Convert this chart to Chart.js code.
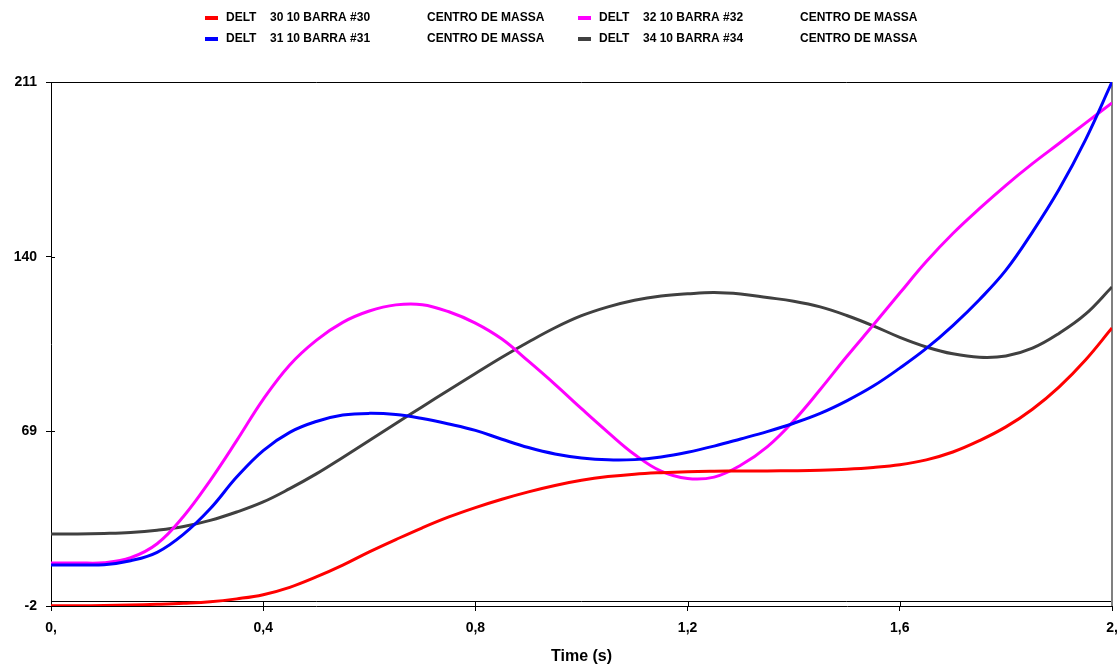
<!DOCTYPE html>
<html>
<head>
<meta charset="utf-8">
<script src="https://cdn.jsdelivr.net/npm/chart.js@4.4.0/dist/chart.umd.min.js"></script>
<style>
  html, body { margin: 0; padding: 0; background: #fff; }
  #chart { display: block; }
</style>
</head>
<body>
<canvas id="chart" width="1120" height="666"></canvas>
<script>
// tempo (s)
const times = [0, 0.05, 0.1, 0.15, 0.2, 0.25, 0.3, 0.35, 0.4, 0.45, 0.5, 0.55, 0.6, 0.65, 0.7, 0.75, 0.8, 0.85, 0.9, 0.95,
               1, 1.05, 1.1, 1.15, 1.2, 1.25, 1.3, 1.35, 1.4, 1.45, 1.5, 1.55, 1.6, 1.65, 1.7, 1.75, 1.8, 1.85, 1.9, 1.95, 2];

// angulos DELT de cada barra
const delt30 = [-1.9, -1.9, -1.8, -1.6, -1.3, -0.9, -0.3, 0.9, 2.6, 5.6, 9.8, 14.6, 20, 25, 29.8, 34.2, 38, 41.4, 44.4, 47,
                49.1, 50.6, 51.6, 52.2, 52.6, 52.8, 52.9, 52.9, 53, 53.2, 53.6, 54.3, 55.4, 57.4, 60.6, 65.2, 70.8, 78, 87, 98, 111];
const delt31 = [14.7, 14.7, 14.8, 16.4, 19.8, 27.2, 37.5, 50.4, 61.2, 68.6, 73, 75.6, 76.3, 75.8, 74.2, 72, 69.4, 65.8, 62.4, 59.8,
                58.2, 57.4, 57.5, 58.6, 60.5, 63, 65.9, 68.9, 72.3, 76.3, 81.4, 87.4, 94.7, 102.7, 112, 122.5, 134.5, 150, 167.3, 187.5, 211];
const delt32 = [15.5, 15.5, 15.6, 17.6, 23.3, 34.5, 49, 65.2, 82, 96, 106, 113.3, 117.9, 120.4, 120.5, 117.6, 113, 106.5, 97.5, 88.1,
                78.2, 68.6, 59.6, 52.8, 49.8, 50.4, 55.2, 62.7, 73.3, 86, 99.4, 112.2, 125.2, 138, 149.4, 159.5, 169, 177.8, 186, 194.3, 202.5];
const delt34 = [27.3, 27.3, 27.5, 27.9, 28.8, 30.3, 32.8, 36.2, 40.3, 45.7, 51.7, 58.4, 65.3, 72.2, 79, 85.8, 92.5, 99.1, 105.3, 111.1,
                116, 119.6, 122.3, 124, 124.9, 125.4, 124.8, 123.4, 121.9, 119.6, 116.1, 111.9, 107.2, 103.3, 100.5, 99.1, 99.6, 102.8, 108.8, 116.6, 127.7];

const busNames = ['30 10 BARRA #30', '31 10 BARRA #31', '32 10 BARRA #32', '34 10 BARRA #34'];
const seriesColors = ['#ff0000', '#0000ff', '#ff00ff', '#404040'];

const xTickValues = [0, 0.4, 0.8, 1.2, 1.6, 2];
const xTickLabels = ['0,', '0,4', '0,8', '1,2', '1,6', '2,'];
const yTickValues = [-2, 69, 140, 211];

const FONT = "Arial, 'Liberation Sans', sans-serif";

function toPoints(values) {
    return values.map((v, i) => ({ x: times[i], y: v }));
}

const allSeries = [delt30, delt31, delt32, delt34];

// moldura: borda superior, borda direita, linha do zero, tracinhos internos
const framePlugin = {
    id: 'frame',
    beforeDatasetsDraw(chart) {
        const { ctx, chartArea: a, scales } = chart;
        ctx.save();
        ctx.lineWidth = 1;
        ctx.strokeStyle = '#000';
        const y0 = Math.round(scales.y.getPixelForValue(0)) + 0.5;
        ctx.beginPath();
        ctx.moveTo(a.left, y0);
        ctx.lineTo(a.right, y0);
        ctx.moveTo(a.left, a.top + 0.5);
        ctx.lineTo(a.right, a.top + 0.5);
        // tracinhos para dentro do grafico
        yTickValues.forEach(v => {
            const py = Math.round(scales.y.getPixelForValue(v)) + 0.5;
            ctx.moveTo(a.left, py);
            ctx.lineTo(a.left + 4, py);
        });
        xTickValues.forEach(v => {
            const px = Math.round(scales.x.getPixelForValue(v)) + 0.5;
            ctx.moveTo(px, a.bottom);
            ctx.lineTo(px, a.bottom - 4);
        });
        ctx.stroke();
        ctx.strokeStyle = '#808080';
        ctx.lineWidth = 2;
        ctx.beginPath();
        ctx.moveTo(a.right, a.top);
        ctx.lineTo(a.right, a.bottom);
        ctx.stroke();
        ctx.restore();
    }
};

// legenda em duas colunas, preenchida coluna a coluna
const legendPlugin = {
    id: 'twoColLegend',
    afterDraw(chart) {
        const { ctx } = chart;
        ctx.save();
        ctx.font = 'bold 12px ' + FONT;
        ctx.textBaseline = 'middle';
        busNames.forEach((name, i) => {
            const col = Math.floor(i / 2);
            const row = i % 2;
            const x0 = 205 + col * 373;
            const y = 18 + row * 21;
            ctx.fillStyle = seriesColors[i];
            ctx.fillRect(x0, y - 2, 13, 4);
            ctx.fillStyle = '#000';
            ctx.fillText('DELT', x0 + 21, y);
            ctx.fillText(name, x0 + 65, y);
            ctx.fillText('CENTRO DE MASSA', x0 + 222, y);
        });
        ctx.restore();
    }
};

const ctx = document.getElementById('chart').getContext('2d');
new Chart(ctx, {
    type: 'line',
    data: {
        datasets: allSeries.map((values, i) => ({
            label: 'DELT   ' + busNames[i] + '   CENTRO DE MASSA',
            data: toPoints(values),
            borderColor: seriesColors[i],
            backgroundColor: seriesColors[i],
            borderWidth: 3,
            pointRadius: 0,
            tension: 0.4,
            fill: false
        }))
    },
    options: {
        responsive: false,
        animation: false,
        devicePixelRatio: 1,
        layout: { padding: { top: 82, right: 8, left: 0, bottom: 0 } },
        plugins: {
            legend: { display: false },
            tooltip: { enabled: false }
        },
        scales: {
            x: {
                type: 'linear',
                min: 0,
                max: 2,
                afterBuildTicks: scale => { scale.ticks = xTickValues.map(v => ({ value: v })); },
                afterFit: scale => { scale.height = 60; scale.paddingLeft = 0; scale.paddingRight = 0; },
                grid: { drawOnChartArea: false, drawTicks: true, tickLength: 5, color: '#000' },
                border: { display: true, color: '#000', width: 1 },
                ticks: {
                    autoSkip: false,
                    maxRotation: 0,
                    padding: 9,
                    color: '#000',
                    font: { family: FONT, size: 14, weight: 'bold' },
                    callback: (value, index) => xTickLabels[index]
                },
                title: {
                    display: true,
                    text: 'Time (s)',
                    color: '#000',
                    padding: { top: 0, bottom: 0 },
                    font: { family: FONT, size: 16, weight: 'bold' }
                }
            },
            y: {
                type: 'linear',
                min: -2,
                max: 211,
                afterBuildTicks: scale => { scale.ticks = yTickValues.map(v => ({ value: v })); },
                afterFit: scale => { scale.width = 51; scale.paddingTop = 0; scale.paddingBottom = 0; },
                grid: { drawOnChartArea: false, drawTicks: true, tickLength: 5, color: '#000' },
                border: { display: true, color: '#000', width: 1 },
                ticks: {
                    padding: 9,
                    color: '#000',
                    font: { family: FONT, size: 14, weight: 'bold' }
                }
            }
        }
    },
    plugins: [framePlugin, legendPlugin]
});
</script>
</body>
</html>
